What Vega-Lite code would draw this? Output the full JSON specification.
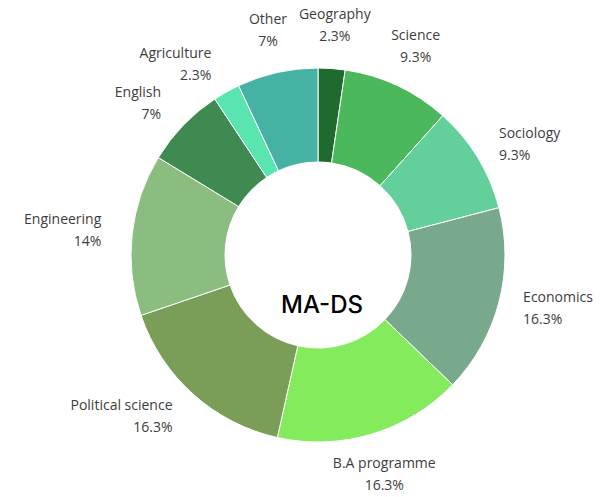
{
  "$schema": "https://vega.github.io/schema/vega-lite/v6.json",
  "autosize": "none",
  "width": 584,
  "height": 484,
  "padding": {"left": 26, "top": 13, "right": 0, "bottom": 0},
  "background": "white",
  "config": {"view": {"stroke": null}},
  "datasets": {
    "slices": [
      {"subject": "Geography", "count": 1, "pct": "2.3%", "order": 1, "side": "c"},
      {"subject": "Science", "count": 4, "pct": "9.3%", "order": 2, "side": "c"},
      {"subject": "Sociology", "count": 4, "pct": "9.3%", "order": 3, "side": "r"},
      {"subject": "Economics", "count": 7, "pct": "16.3%", "order": 4, "side": "r"},
      {"subject": "B.A programme", "count": 7, "pct": "16.3%", "order": 5, "side": "c"},
      {"subject": "Political science", "count": 7, "pct": "16.3%", "order": 6, "side": "l"},
      {"subject": "Engineering", "count": 6, "pct": "14%", "order": 7, "side": "l"},
      {"subject": "English", "count": 3, "pct": "7%", "order": 8, "side": "l"},
      {"subject": "Agriculture", "count": 1, "pct": "2.3%", "order": 9, "side": "l"},
      {"subject": "Other", "count": 3, "pct": "7%", "order": 10, "side": "c"}
    ]
  },
  "layer": [
    {
      "data": {"name": "slices"},
      "mark": {"type": "arc", "innerRadius": 93, "outerRadius": 187, "stroke": "#ffffff", "strokeWidth": 1},
      "encoding": {
        "theta": {"field": "count", "type": "quantitative", "stack": true},
        "order": {"field": "order", "type": "quantitative"},
        "color": {
          "field": "subject",
          "type": "nominal",
          "legend": null,
          "scale": {
            "domain": ["Geography", "Science", "Sociology", "Economics", "B.A programme", "Political science", "Engineering", "English", "Agriculture", "Other"],
            "range": ["#1f6a2e", "#4bb85b", "#63d09b", "#79a98c", "#84eb5c", "#7a9e58", "#8bbd80", "#3e8a50", "#5ae4b0", "#45b2a4"]
          }
        }
      }
    },
    {
      "data": {"name": "slices"},
      "transform": [
        {"stack": "count", "sort": [{"field": "order"}], "as": ["c0", "c1"]},
        {"calculate": "(datum.c0 + datum.c1) / 2", "as": "mid"},
        {"calculate": "[datum.subject, datum.pct]", "as": "lines"},
        {"filter": "datum.side === 'c'"}
      ],
      "mark": {"type": "text", "radius": 230, "dy": -11, "font": "Open Sans", "fontSize": 14, "color": "#3d3d3d", "align": "center", "baseline": "middle", "lineHeight": 22},
      "encoding": {
        "theta": {"field": "mid", "type": "quantitative", "scale": {"domain": [0, 43]}},
        "text": {"field": "lines"}
      }
    },
    {
      "data": {"name": "slices"},
      "transform": [
        {"stack": "count", "sort": [{"field": "order"}], "as": ["c0", "c1"]},
        {"calculate": "(datum.c0 + datum.c1) / 2", "as": "mid"},
        {"calculate": "[datum.subject, datum.pct]", "as": "lines"},
        {"filter": "datum.side === 'r'"}
      ],
      "mark": {"type": "text", "radius": 212, "dy": -11, "font": "Open Sans", "fontSize": 14, "color": "#3d3d3d", "align": "left", "baseline": "middle", "lineHeight": 22},
      "encoding": {
        "theta": {"field": "mid", "type": "quantitative", "scale": {"domain": [0, 43]}},
        "text": {"field": "lines"}
      }
    },
    {
      "data": {"name": "slices"},
      "transform": [
        {"stack": "count", "sort": [{"field": "order"}], "as": ["c0", "c1"]},
        {"calculate": "(datum.c0 + datum.c1) / 2", "as": "mid"},
        {"calculate": "[datum.subject, datum.pct]", "as": "lines"},
        {"filter": "datum.side === 'l'"}
      ],
      "mark": {"type": "text", "radius": 218, "dy": -11, "font": "Open Sans", "fontSize": 14, "color": "#3d3d3d", "align": "right", "baseline": "middle", "lineHeight": 22},
      "encoding": {
        "theta": {"field": "mid", "type": "quantitative", "scale": {"domain": [0, 43]}},
        "text": {"field": "lines"}
      }
    },
    {
      "data": {"values": [{"t": "MA-DS"}]},
      "mark": {"type": "text", "x": {"expr": "width/2"}, "y": {"expr": "height/2"}, "dy": 51, "dx": 4, "font": "Inter", "fontSize": 24, "fontWeight": 500, "color": "#000000", "align": "center", "baseline": "middle"},
      "encoding": {"text": {"field": "t"}}
    }
  ]
}
